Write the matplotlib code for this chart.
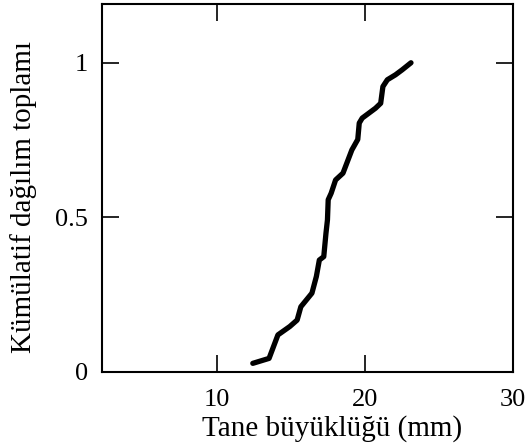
import matplotlib
matplotlib.use("Agg")
import matplotlib.pyplot as plt

size_mm = [12.4, 13.5, 14.1, 14.9, 15.4, 15.65, 16.4, 16.7, 16.9, 17.2, 17.35, 17.45,
           17.5, 17.7, 18.0, 18.5, 19.1, 19.5, 19.6, 19.8, 20.7, 21.05, 21.2, 21.5,
           22.05, 22.5, 23.1]
cum = [0.028, 0.044, 0.12, 0.147, 0.168, 0.211, 0.255, 0.309, 0.362, 0.373, 0.449, 0.492,
       0.557, 0.578, 0.621, 0.643, 0.718, 0.752, 0.805, 0.821, 0.853, 0.869, 0.923, 0.945,
       0.961, 0.977, 1.0]
xticks = [10, 20, 30]
yticks = [0, 0.5, 1]
yticklabels = ["0", "0.5", "1"]

plt.rcParams['font.family'] = ['Liberation Serif', 'DejaVu Serif']

fig = plt.figure(figsize=(5.29, 4.47), dpi=100)
ax = fig.add_axes([102/529, 1 - 372/447, 411/529, 368/447])
ax.plot(size_mm, cum, color='black', lw=3.8, solid_capstyle='round', solid_joinstyle='round')
ax.set_xlim(2.2, 30)
ax.set_ylim(0, 1.19)
ax.set_xticks(xticks)
ax.set_yticks(yticks)
ax.set_yticklabels(yticklabels)
ax.tick_params(direction='in', length=12.5, width=1.2, top=True, right=True,
               labelsize=19, pad=10, colors='black')
ax.tick_params(axis='x', pad=12)
for s in ax.spines.values():
    s.set_linewidth(1.5)
ax.set_xlabel("Tane büyüklüğü (mm)", fontsize=21, va='center')
ax.set_ylabel("Kümülatif dağılım toplamı", fontsize=21, va='center')
ax.xaxis.set_label_coords(0.56, -0.153)
ax.yaxis.set_label_coords(-0.19, 0.476)
fig.savefig("out.png", dpi=100)
